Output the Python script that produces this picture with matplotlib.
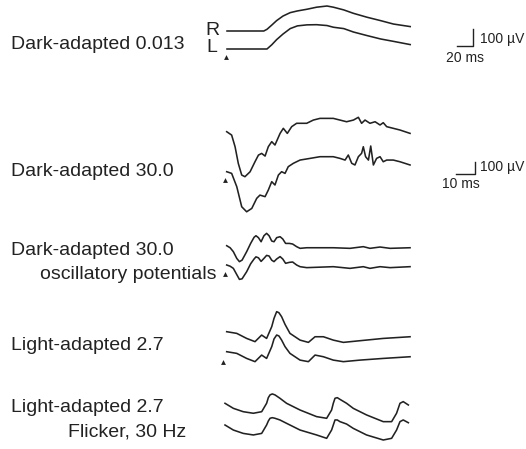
import matplotlib.pyplot as plt
import numpy as np

# ERG traces, right eye (R) upper and left eye (L) lower
# time in ms, amplitude in uV

# Dark-adapted 0.013
da1_t = [0, 46, 50, 56, 62, 70, 79, 88, 100, 112, 125, 133, 146, 158, 175, 192, 208, 229]
da1_R = [0, 0, 10, 35, 61, 88, 108, 118, 128, 140, 147, 140, 124, 104, 81, 61, 41, 26]
da1_L = [0, 0, 0, 25, 55, 88, 120, 136, 142, 143, 138, 128, 120, 100, 79, 59, 45, 26]

# Dark-adapted 30.0
da30_tR = [0, 2.6, 4.4, 6.1, 7.9, 9.6, 12.3, 14.9, 16.7, 18.4, 20.2, 21.9, 23.7, 25.4, 28.1,
           29.8, 31.9, 34.2, 36.8, 42.1, 45.6, 49.1, 56.1, 59.6, 63.1, 66.7, 69.3, 71.0, 72.8,
           75.4, 78.1, 80.7, 82.4, 84.2, 87.7, 91.2, 96.5]
da30_R = [0, -28, -125, -264, -361, -375, -334, -250, -195, -181, -203, -125, -83, -111, -14,
          28, -14, 42, 70, 70, 97, 111, 111, 97, 83, 97, 120, 70, 97,
          70, 83, 56, 75, 42, 28, 14, -14]
da30_tL = [0, 2.6, 5.3, 7.9, 10.5, 13.2, 15.8, 17.5, 20.2, 21.9, 23.7, 25.4, 27.2, 28.9, 30.7,
           32.4, 35.1, 38.6, 43.9, 49.1, 56.1, 59.6, 62.3, 64.0, 65.8, 67.5, 69.3, 71.0, 71.9,
           73.1, 74.6, 75.8, 77.2, 78.9, 80.7, 82.4, 84.2, 87.7, 91.2, 96.5]
da30_L = [0, -14, -125, -292, -334, -306, -222, -195, -208, -153, -83, -111, -28, 0, -14,
          42, 70, 97, 111, 125, 125, 111, 97, 139, 70, 56, 125, 153, 208,
          125, 97, 214, 56, 111, 125, 83, 97, 97, 83, 56]

# Dark-adapted 30.0 oscillatory potentials
op_t = [0, 1.8, 3.5, 5.3, 6.7, 8.1, 10.5, 12.6, 14.4, 15.4, 16.7, 18.1, 19.6, 21.0, 22.3,
        23.7, 24.9, 26.3, 28.1, 29.5, 31.0, 33.0, 34.7, 36.8, 38.6, 42.1, 56.1, 64.9,
        71.9, 75.4, 80.7, 86.0, 96.5]
op_R = [0, -17, -50, -106, -133, -120, -50, 19, 70, 83, 67, 33, 83, 103, 83,
        39, 33, 67, 75, 56, 19, 19, 14, -8, -22, -17, -17, -22,
        -8, -22, -11, -22, -17]
op_L = [0, -10, -28, -80, -120, -115, -56, 10, 50, 68, 60, 30, 55, 80, 75,
        40, 28, 50, 70, 50, 14, 22, 25, 0, -14, -22, -14, -28,
        -14, -28, -14, -22, -14]

# Light-adapted 2.7
la_t = [0, 5.3, 10.5, 14.9, 18.4, 21.0, 23.7, 24.9, 26.3, 27.5, 28.9, 30.7, 33.3, 38.6,
        43.0, 46.5, 50.9, 56.1, 61.4, 70.2, 82.4, 96.5]
la_R = [0, -14, -56, -83, -28, -56, 42, 111, 167, 158, 125, 61, -14, -70,
        -89, -42, -42, -70, -89, -75, -56, -42]
la_L = [0, -14, -56, -83, -28, -56, 42, 106, 139, 131, 97, 42, -14, -70,
        -83, -28, -42, -70, -83, -70, -56, -42]

# Light-adapted 2.7 flicker 30 Hz
fl_t = [0, 4.4, 9.6, 14.9, 19.3, 21.9, 22.8, 23.7, 24.9, 26.3, 28.9, 32.4, 39.5, 48.2, 53.5,
        56.1, 57.0, 57.9, 59.1, 60.5, 64.0, 67.5, 74.5, 83.3, 87.7, 90.3, 92.1, 93.8, 96.5]
fl_R = [0, -42, -70, -83, -70, 0, 47, 70, 78, 70, 42, 0, -56, -111, -125,
        -56, 0, 42, 47, 33, 0, -42, -97, -153, -153, -83, 0, 14, -14]
fl_L = [0, -42, -70, -83, -70, 0, 33, 56, 61, 56, 42, 14, -42, -83, -111,
        -42, 0, 42, 42, 28, 8, -28, -83, -125, -111, -42, 28, 42, 19]

# scale bars
bar1_ms, bar1_uv = 20, 100
bar2_ms, bar2_uv = 10, 100

col = "#222222"
fs = 14

fig = plt.figure(figsize=(5.26, 4.49), dpi=100)
ax = fig.add_axes([0, 0, 1, 1])
ax.set_xlim(0, 526)
ax.set_ylim(449, 0)
ax.axis("off")


def trace(t, v, x0, y0, ms_px, uv_px):
    x = x0 + np.array(t) / ms_px
    y = y0 - np.array(v) / uv_px
    ax.plot(x, y, color=col, lw=1.15, solid_joinstyle="round")


def stim(x, y):
    ax.plot(x, y, marker="^", color=col, ms=3.5, mew=0)


def label(x, y, s, size=fs):
    ax.text(x, y, s, fontsize=size, family="Liberation Sans", color=col)


# panel scales (units per px)
ms1, uv1 = 1.25, 100 / 17
ms2, uv2 = 10 / 19, 100 / 12

# Dark-adapted 0.013
trace(da1_t, da1_R, 227, 31, ms1, uv1)
trace(da1_t, da1_L, 227, 49, ms1, uv1)
stim(226, 57)
label(11, 49, "Dark-adapted 0.013")
label(205, 35, "R")
label(206, 52, "L")

# Dark-adapted 30.0
trace(da30_tR, da30_R, 226.7, 131.7, ms2, uv2)
trace(da30_tL, da30_L, 226.7, 171.7, ms2, uv2)
stim(225, 180)
label(11, 176.5, "Dark-adapted 30.0")

# oscillatory potentials
trace(op_t, op_R, 226.7, 245.7, ms2, uv2)
trace(op_t, op_L, 226.7, 265, ms2, uv2)
stim(225, 274)
label(11, 255, "Dark-adapted 30.0")
label(40, 279, "oscillatory potentials")

# Light-adapted 2.7
trace(la_t, la_R, 226.7, 331.7, ms2, uv2)
trace(la_t, la_L, 226.7, 351.7, ms2, uv2)
stim(223, 362)
label(11, 350, "Light-adapted 2.7")

# flicker
trace(fl_t, fl_R, 225, 403.3, ms2, uv2)
trace(fl_t, fl_L, 225, 425, ms2, uv2)
label(11, 411.5, "Light-adapted 2.7")
label(68, 436.5, "Flicker, 30 Hz")

# scale bar 1
xb, yb = 473, 46
ax.plot([xb - bar1_ms / ms1, xb, xb], [yb, yb, yb - bar1_uv / uv1], color=col, lw=1)
label(480, 42.5, f"{bar1_uv} \u00b5V", 10)
label(446, 62.5, f"{bar1_ms} ms", 10)

# scale bar 2
xb, yb = 475, 174
ax.plot([xb - bar2_ms / ms2, xb, xb], [yb, yb, yb - bar2_uv / uv2], color=col, lw=1)
label(480, 170.5, f"{bar2_uv} \u00b5V", 10)
label(442, 188, f"{bar2_ms} ms", 10)

plt.savefig("out.png", dpi=100)
